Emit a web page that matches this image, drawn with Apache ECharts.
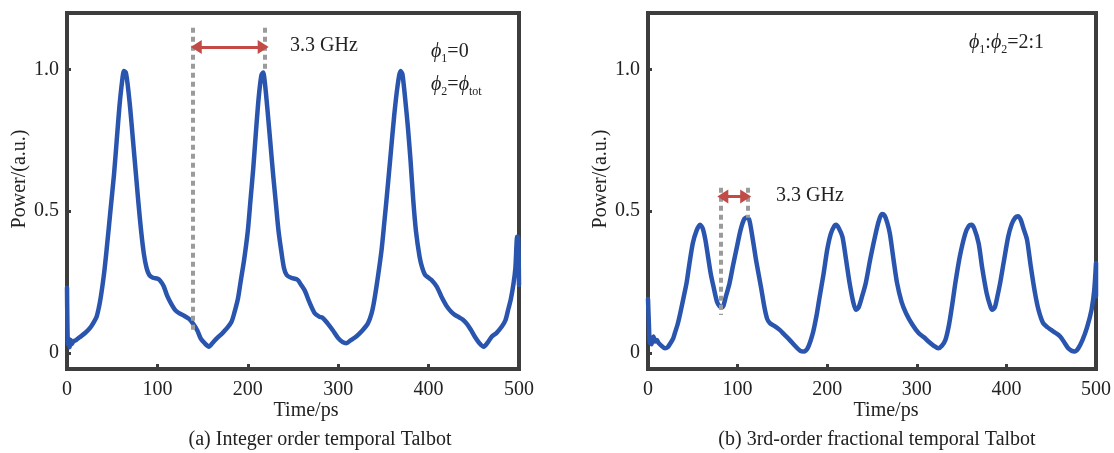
<!DOCTYPE html>
<html>
<head>
<meta charset="utf-8">
<script src="https://cdn.jsdelivr.net/npm/echarts@6/dist/echarts.min.js"></script>
<style>
  html, body { margin: 0; padding: 0; background: #fff; }
  #chart { width: 1114px; height: 453px; }
</style>
</head>
<body>
<div id="chart"></div>
<script>
// Time axis ticks (ps) and power ticks (a.u.)
const timeTicks = [0, 100, 200, 300, 400, 500];
const powerTicks = [0, 0.5, 1.0];
const powerTickText = ['0', '0.5', '1.0'];

// (a) Integer order temporal Talbot: [time ps, power a.u.]
const integerTrace = [
  [0,0.23],[1,0.03],[2,0.05],[3,0.02],[4,0.045],[5,0.03],[7,0.04],[10,0.045],[14,0.055],[20,0.07],
  [26,0.09],[30,0.11],[33,0.13],[37,0.19],[41,0.28],[44,0.37],[48,0.5],[52,0.63],[55,0.75],[58,0.87],
  [61,0.96],[63,0.995],[65,0.99],[67,0.95],[70,0.86],[73,0.75],[76,0.64],[79,0.53],[82,0.43],[85,0.35],
  [88,0.3],[91,0.275],[95,0.265],[100,0.262],[103,0.255],[107,0.235],[111,0.2],[115,0.175],[120,0.15],
  [124,0.14],[130,0.13],[135,0.12],[139,0.105],[144,0.08],[148,0.05],[152,0.035],[157,0.022],[161,0.035],
  [166,0.052],[172,0.07],[177,0.087],[182,0.11],[185,0.14],[189,0.19],[192,0.25],[196,0.33],[200,0.43],
  [203,0.54],[206,0.65],[209,0.78],[212,0.9],[215,0.98],[217,0.99],[219,0.95],[222,0.85],[225,0.74],
  [228,0.63],[231,0.53],[234,0.43],[237,0.36],[240,0.3],[243,0.275],[248,0.265],[255,0.258],[259,0.24],
  [263,0.22],[268,0.18],[274,0.14],[279,0.128],[283,0.123],[288,0.105],[294,0.08],[300,0.052],[305,0.038],
  [309,0.034],[314,0.045],[320,0.058],[327,0.08],[333,0.105],[337,0.14],[340,0.187],[344,0.27],[348,0.364],
  [351,0.46],[354,0.56],[358,0.7],[362,0.84],[366,0.95],[369,0.995],[371,0.985],[374,0.9],[377,0.8],
  [380,0.68],[383,0.54],[386,0.43],[390,0.34],[393,0.3],[396,0.276],[400,0.265],[403,0.258],[409,0.234],
  [414,0.2],[420,0.165],[425,0.145],[429,0.134],[434,0.125],[438,0.117],[443,0.1],[447,0.08],[451,0.058],
  [456,0.035],[461,0.022],[465,0.035],[470,0.058],[475,0.07],[481,0.093],[485,0.115],[488,0.152],
  [491,0.19],[494,0.246],[496,0.3],[498,0.41],[499,0.41],[500,0.24]
];

// (b) 3rd-order fractional temporal Talbot: [time ps, power a.u.]
const fractionalTrace = [
  [0,0.19],[1,0.1],[2,0.035],[3,0.05],[4,0.03],[6,0.058],[8,0.04],[10,0.045],[12,0.034],[15,0.025],
  [19,0.016],[22,0.02],[25,0.034],[28,0.05],[30,0.07],[33,0.1],[36,0.14],[40,0.2],[43,0.246],[46,0.31],
  [50,0.387],[54,0.43],[58,0.452],[61,0.44],[64,0.4],[67,0.34],[70,0.28],[73,0.235],[77,0.18],[80,0.164],
  [82,0.16],[84,0.165],[87,0.2],[91,0.246],[95,0.31],[99,0.37],[103,0.43],[107,0.47],[110,0.478],[113,0.47],
  [117,0.4],[121,0.32],[126,0.234],[130,0.16],[133,0.12],[136,0.105],[141,0.095],[147,0.081],[152,0.065],
  [158,0.046],[164,0.025],[170,0.007],[174,0.005],[178,0.015],[184,0.07],[188,0.13],[191,0.187],[196,0.28],
  [200,0.364],[204,0.42],[208,0.448],[210,0.452],[213,0.44],[217,0.41],[221,0.33],[225,0.246],[229,0.18],
  [232,0.152],[235,0.16],[239,0.2],[243,0.246],[248,0.33],[254,0.42],[258,0.47],[261,0.49],[264,0.485],
  [267,0.46],[270,0.42],[274,0.33],[278,0.246],[283,0.18],[288,0.14],[295,0.1],[302,0.07],[308,0.055],
  [313,0.04],[319,0.025],[324,0.016],[328,0.025],[332,0.046],[336,0.1],[340,0.18],[343,0.246],[348,0.34],
  [354,0.42],[358,0.448],[361,0.452],[364,0.44],[369,0.387],[373,0.3],[378,0.21],[382,0.165],[384,0.152],
  [387,0.16],[390,0.2],[393,0.246],[397,0.32],[402,0.41],[406,0.455],[410,0.478],[413,0.482],[416,0.47],
  [419,0.44],[423,0.4],[427,0.31],[432,0.21],[436,0.15],[441,0.105],[446,0.09],[450,0.081],[455,0.07],
  [460,0.058],[464,0.04],[469,0.016],[473,0.007],[476,0.005],[480,0.015],[485,0.046],[490,0.09],
  [495,0.152],[498,0.22],[500,0.317],[500,0.2]
];

// Period markers: dashed guides [time, from power, to power] and the double arrow [from time, to time, power]
const integerGuides = [[139, 1.148, 0.07], [219, 1.148, 1.0]];
const integerArrow = [143, 217, 1.08];
const fractionalGuides = [[80.7, 0.583, 0.134], [111.5, 0.583, 0.477]];
const fractionalArrow = [83.5, 109, 0.552];

const FONT = '"Liberation Serif", "Times New Roman", "DejaVu Serif", serif';
const FRAME = '#3d3d3d';
const LINE = '#2a55ae';
const GUIDE = '#9b9b9b';
const ARROW = '#c24b47';

function guideLines(guides, arrow) {
  const data = guides.map(g => [
    { coord: [g[0], g[1]], symbol: 'none' },
    { coord: [g[0], g[2]], symbol: 'none' }
  ]);
  return {
    silent: true,
    animation: false,
    label: { show: false },
    lineStyle: { color: GUIDE, width: 4, type: [5, 4], opacity: 1 },
    data: data.concat([[
      { coord: [arrow[0], arrow[2]], symbol: 'triangle', symbolSize: [14, 11],
        lineStyle: { color: ARROW, width: 3, type: 'solid' } },
      { coord: [arrow[1], arrow[2]], symbol: 'triangle', symbolSize: [14, 11],
        lineStyle: { color: ARROW, width: 3, type: 'solid' } }
    ]]),
    emphasis: { disabled: true }
  };
}

function xAxisFor(gridIndex) {
  return {
    type: 'value', gridIndex, min: 0, max: 500, interval: 100,
    axisLine: { show: false, onZero: false },
    axisTick: { show: true, inside: true, length: 5, lineStyle: { color: FRAME, width: 3 } },
    axisLabel: { color: '#222', fontFamily: FONT, fontSize: 20, margin: 11,
      customValues: timeTicks },
    splitLine: { show: false }
  };
}

function yAxisFor(gridIndex) {
  return {
    type: 'value', gridIndex, min: -0.057, max: 1.2,
    axisLine: { show: false, onZero: false },
    axisTick: { show: true, inside: true, length: 4, lineStyle: { color: FRAME, width: 3 },
      customValues: powerTicks },
    axisLabel: { color: '#222', fontFamily: FONT, fontSize: 20, margin: 8,
      customValues: powerTicks,
      formatter: v => powerTickText[powerTicks.indexOf(v)] ?? '' },
    splitLine: { show: false }
  };
}

const textBase = { fontFamily: FONT, fill: '#222', fontSize: 20 };
const phiRich = {
  p: { fontFamily: FONT, fontStyle: 'italic', fontSize: 20, fill: '#222', verticalAlign: 'middle', lineHeight: 26 },
  t: { fontFamily: FONT, fontSize: 20, fill: '#222', verticalAlign: 'middle', lineHeight: 26 },
  s: { fontFamily: FONT, fontSize: 12, fill: '#222', verticalAlign: 'bottom', lineHeight: 24 }
};

const chart = echarts.init(document.getElementById('chart'), null, { renderer: 'canvas' });
chart.setOption({
  animation: false,
  backgroundColor: '#fff',
  grid: [
    { left: 67, top: 13, width: 452, height: 356, show: true, borderWidth: 4, borderColor: FRAME, backgroundColor: 'transparent' },
    { left: 648, top: 13, width: 451, height: 356, show: true, borderWidth: 4, borderColor: FRAME, backgroundColor: 'transparent' }
  ],
  xAxis: [xAxisFor(0), xAxisFor(1)],
  yAxis: [yAxisFor(0), yAxisFor(1)],
  series: [
    {
      type: 'line', xAxisIndex: 0, yAxisIndex: 0, data: integerTrace,
      showSymbol: false, smooth: 0.25, z: 3,
      lineStyle: { color: LINE, width: 4.5, join: 'round', cap: 'round' },
      markLine: guideLines(integerGuides, integerArrow)
    },
    {
      type: 'line', xAxisIndex: 1, yAxisIndex: 1, data: fractionalTrace,
      showSymbol: false, smooth: 0.25, z: 3,
      lineStyle: { color: LINE, width: 4.5, join: 'round', cap: 'round' },
      markLine: guideLines(fractionalGuides, fractionalArrow)
    }
  ],
  graphic: [
    { type: 'text', left: 290, top: 36, style: Object.assign({ text: '3.3 GHz' }, textBase) },
    { type: 'text', left: 776, top: 186, style: Object.assign({ text: '3.3 GHz' }, textBase) },
    { type: 'text', left: 431, top: 42, style: { text: '{p|ϕ}{s|1}{t|=0}', rich: phiRich } },
    { type: 'text', left: 431, top: 75, style: { text: '{p|ϕ}{s|2}{t|=}{p|ϕ}{s|tot}', rich: phiRich } },
    { type: 'text', left: 969, top: 33, style: { text: '{p|ϕ}{s|1}{t|:}{p|ϕ}{s|2}{t|=2:1}', rich: phiRich } },
    { type: 'text', x: 20, y: 179, rotation: Math.PI / 2,
      style: Object.assign({ text: 'Power/(a.u.)', align: 'center', verticalAlign: 'middle' }, textBase) },
    { type: 'text', x: 601, y: 179, rotation: Math.PI / 2,
      style: Object.assign({ text: 'Power/(a.u.)', align: 'center', verticalAlign: 'middle' }, textBase) },
    { type: 'text', x: 306, y: 411, style: Object.assign({ text: 'Time/ps', align: 'center', verticalAlign: 'middle' }, textBase) },
    { type: 'text', x: 886, y: 411, style: Object.assign({ text: 'Time/ps', align: 'center', verticalAlign: 'middle' }, textBase) },
    { type: 'text', x: 320, y: 440, style: Object.assign({ text: '(a) Integer order temporal Talbot', align: 'center', verticalAlign: 'middle' }, textBase) },
    { type: 'text', x: 877, y: 440, style: Object.assign({ text: '(b) 3rd-order fractional temporal Talbot', align: 'center', verticalAlign: 'middle' }, textBase) }
  ]
});
</script>
</body>
</html>
